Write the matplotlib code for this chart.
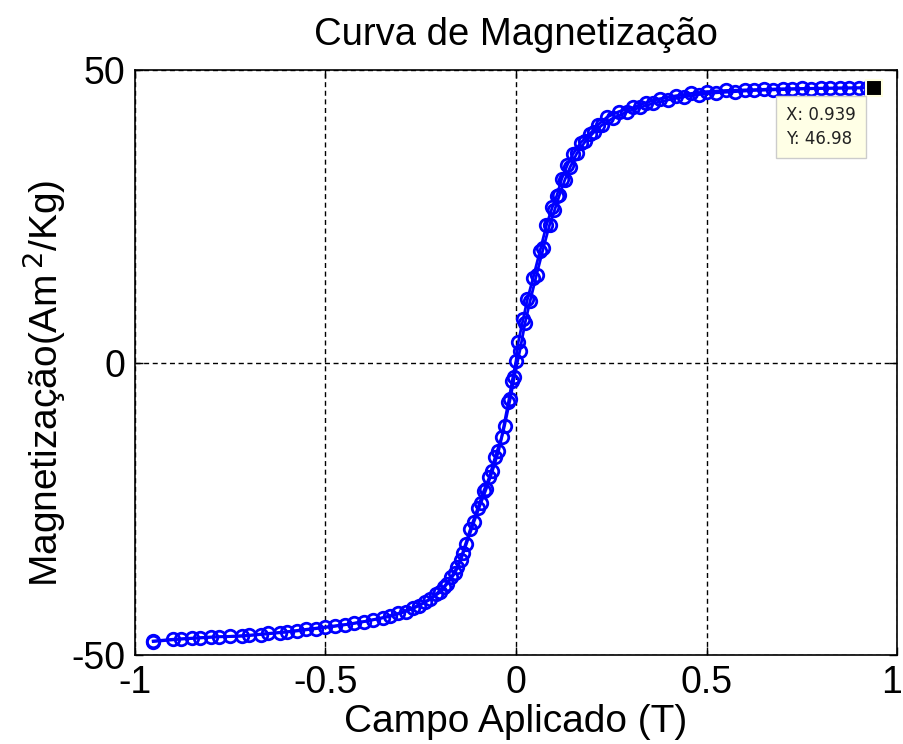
import matplotlib
matplotlib.use("Agg")
import matplotlib.pyplot as plt
from matplotlib.transforms import ScaledTranslation

plt.rcParams['font.family'] = ['Liberation Sans', 'DejaVu Sans']

# Descending field branch (T, Am^2/Kg)
campo_desc = [0.939, 0.90, 0.85, 0.80, 0.75, 0.70, 0.65, 0.60, 0.55, 0.50, 0.46, 0.42,
              0.378, 0.34, 0.308, 0.27, 0.238, 0.215, 0.194, 0.17, 0.15, 0.135, 0.12,
              0.107, 0.095, 0.08, 0.063, 0.045, 0.03, 0.019, 0.006, 0.0, -0.01, -0.02,
              -0.038, -0.055, -0.07, -0.085, -0.10, -0.12, -0.14, -0.155, -0.17, -0.19,
              -0.21, -0.24, -0.27, -0.31, -0.35, -0.40, -0.45, -0.50, -0.55, -0.60,
              -0.65, -0.70, -0.75, -0.80, -0.85, -0.90, -0.952]
mag_desc = [46.98, 46.97, 46.95, 46.9, 46.85, 46.8, 46.7, 46.6, 46.5, 46.3, 46.0, 45.6,
            45.1, 44.4, 43.6, 42.9, 41.9, 40.6, 39.1, 37.6, 35.7, 33.8, 31.4,
            28.5, 26.5, 23.5, 19.1, 14.5, 10.8, 7.5, 3.5, 0.3, -3.1, -6.8,
            -12.8, -16.2, -19.6, -22.0, -24.8, -28.5, -32.5, -35.0, -36.7, -38.4,
            -39.6, -41.0, -41.9, -42.9, -43.6, -44.3, -44.8, -45.2, -45.6, -46.0,
            -46.3, -46.6, -46.8, -46.9, -47.1, -47.3, -47.6]

# Ascending field branch
campo_asc = [-0.952, -0.88, -0.83, -0.78, -0.72, -0.67, -0.62, -0.575, -0.525, -0.475,
             -0.425, -0.375, -0.33, -0.29, -0.255, -0.225, -0.2, -0.18, -0.16, -0.145,
             -0.13, -0.11, -0.092, -0.078, -0.062, -0.046, -0.03, -0.015, -0.004, 0.01,
             0.024, 0.037, 0.054, 0.072, 0.088, 0.101, 0.114, 0.128, 0.142, 0.16, 0.182,
             0.205, 0.226, 0.255, 0.29, 0.325, 0.36, 0.40, 0.44, 0.48, 0.525, 0.575,
             0.625, 0.675, 0.725, 0.775, 0.825, 0.875, 0.92]
mag_asc = [-47.7, -47.3, -47.1, -46.9, -46.8, -46.5, -46.2, -45.9, -45.5, -45.1,
           -44.6, -44.0, -43.4, -42.6, -41.6, -40.5, -39.3, -37.8, -36.0, -33.8,
           -31.0, -27.2, -24.0, -21.6, -18.6, -15.2, -10.8, -6.2, -2.4, 2.0,
           6.8, 10.5, 15.0, 19.6, 23.5, 26.0, 28.6, 31.2, 33.4, 35.8, 37.8,
           39.4, 40.6, 41.8, 42.8, 43.6, 44.3, 44.9, 45.4, 45.8, 46.1, 46.3,
           46.5, 46.6, 46.7, 46.8, 46.85, 46.9, 46.95]

xticks = [-1, -0.5, 0, 0.5, 1]
xticklabels = ['-1', '-0.5', '0', '0.5', '1']
yticks = [-50, 0, 50]
yticklabels = ['-50', '0', '50']

# Data tip
tip_x, tip_y = 0.939, 46.98

fig = plt.figure(figsize=(9.04, 7.44), dpi=100)
ax = fig.add_axes([0.1493, 0.1196, 0.8430, 0.7863])

for cx, my in ((campo_desc, mag_desc), (campo_asc, mag_asc)):
    ax.plot(cx, my, '-o', color='#0000ff', mfc='none', mec='#0000ff',
            ms=9, mew=2.0, lw=2.0, zorder=3)

ax.set_xlim(-1, 1)
ax.set_ylim(-50, 50)
ax.set_xticks(xticks)
ax.set_xticklabels(xticklabels)
ax.set_yticks(yticks)
ax.set_yticklabels(yticklabels)
ax.tick_params(direction='in', length=6, width=1, top=True, right=True,
               labelsize=27, pad=7)
for s in ax.spines.values():
    s.set_linewidth(1.2)

# keep the rightmost tick label inside the figure
last = ax.get_xticklabels()[-1]
last.set_transform(last.get_transform() + ScaledTranslation(-0.05, 0, fig.dpi_scale_trans))

ax.grid(True, color='black', linestyle=(0, (3.6, 2.6)), linewidth=1.0)
ax.set_axisbelow(True)

ax.set_title('Curva de Magnetização', fontsize=27.5, pad=18)
ax.set_xlabel('Campo Aplicado (T)', fontsize=28, labelpad=2)
ax.set_ylabel('Magnetização(Am$^{\\,2}$/Kg)', fontsize=28)
ax.yaxis.set_label_coords(-0.088, 0.465)

# Data tip marker and box
ax.plot([tip_x], [tip_y], 's', color='black', mec='#ffffe0', ms=11, mew=1.5,
        zorder=5, clip_on=False)
ax.annotate(f'X: {tip_x}\nY: {tip_y}', xy=(tip_x, tip_y), xytext=(-88, -18),
            textcoords='offset pixels', fontsize=12, va='top', ha='left',
            linespacing=1.45, family='DejaVu Sans', color='#222222',
            bbox=dict(boxstyle='square,pad=0.6', fc='#ffffe6', ec='#cccccc', lw=1),
            zorder=6)

fig.savefig('out.png', dpi=100)
